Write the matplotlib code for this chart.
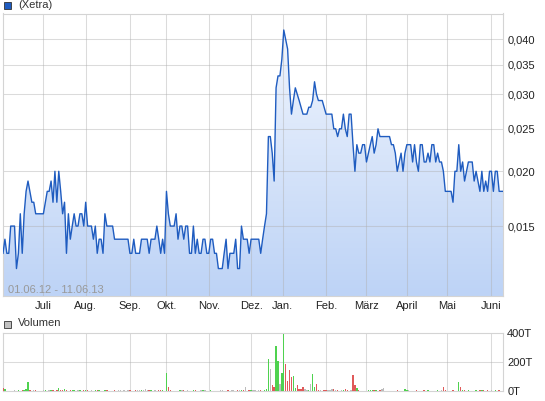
import numpy as np
import matplotlib.pyplot as plt
from matplotlib.colors import LinearSegmentedColormap
from matplotlib.patches import Rectangle
from matplotlib.ticker import NullLocator

plt.rcParams['font.family'] = ['Liberation Sans', 'DejaVu Sans']

# Schlusskurse Xetra, Handelstage 01.06.12 - 11.06.13 (in 1/1000 EUR)
kurs = [13, 14, 13, 13, 15, 15, 15, 12, 13, 16, 13, 16, 18, 19, 18, 17, 17, 16, 16, 16,
        16, 16, 17, 18, 18, 19, 17, 20, 17, 20, 18, 16, 17, 13, 16, 14, 15, 16, 15, 15,
        16, 16, 15, 17, 15, 15, 15, 14, 15, 13, 14, 14, 13, 16, 15, 15, 15, 15, 14, 14,
        14, 14, 14, 14, 14, 14,
        13, 13, 14, 13, 13, 13, 14, 14, 14, 14, 13, 14, 14, 14, 15, 14, 13, 14, 13, 18,
        16, 15, 15, 15, 16, 14, 15, 15, 14, 15, 15, 13, 13, 15, 13, 14, 13, 13, 14, 14,
        13, 13, 14, 14, 13, 13, 12, 12, 12, 13, 14, 12, 13, 13, 13, 14, 12, 12, 15, 14,
        14, 14, 13, 14, 14,
        14, 14, 14, 13, 14, 15, 16, 24, 24, 22, 19, 31, 33, 33, 36, 42, 40, 38, 31, 27,
        29, 31, 30, 29, 28, 27, 27, 27, 28, 28, 29, 32, 30, 29, 29, 29, 28, 27, 27, 27,
        27, 25, 25, 24, 25, 25, 27, 25, 24, 27, 27, 23, 20, 23, 22, 22, 23, 23, 21, 22,
        23, 24, 22, 23, 25, 24,
        24, 24, 24, 24, 24, 23, 23, 22, 20, 21, 22, 20, 22, 23, 23, 23, 21, 23, 21, 20,
        23, 23, 21, 21, 22, 21, 23, 23, 21, 22, 21, 21, 20, 18, 18, 18, 18, 17, 20, 20,
        23, 20, 21, 19, 20, 21, 21, 21, 19, 20, 19, 18, 20, 18, 19, 18, 20, 20, 18, 20,
        20, 18, 18, 18]

# Umsatz in Tausend Stueck
volumen = [23, 14, 5, 4, 5, 4, 6, 5, 12, 5, 12, 6, 14, 64, 10, 5, 6, 8, 5, 4,
           4, 6, 8, 5, 10, 12, 6, 5, 10, 23, 6, 8, 18, 6, 5, 10, 6, 8, 5, 12,
           6, 5, 8, 10, 6, 5, 6, 4, 8, 10, 12, 5, 4, 8, 6, 5, 4, 5, 6, 5,
           8, 6, 5, 10, 5, 8, 6, 4, 5, 6, 12, 8, 6, 10, 14, 6, 8, 10, 5, 6,
           5, 8, 10, 6, 5, 127, 27, 10, 5, 5, 5, 4, 6, 8, 12, 5, 6, 5, 4, 8,
           6, 5, 5, 8, 10, 6, 5, 4, 6, 5, 5, 4, 5, 6, 8, 5, 4, 6, 5, 8,
           6, 5, 10, 8, 12, 10, 30, 5, 12, 8, 6, 10, 5, 8, 12, 5, 10, 14, 221, 155,
           43, 30, 310, 207, 52, 125, 392, 187, 71, 146, 98, 105, 23, 43, 18, 14, 30, 14, 8, 10,
           50, 118, 30, 50, 8, 8, 5, 6, 10, 12, 8, 14, 14, 6, 8, 5, 10, 12, 14, 6,
           5, 6, 111, 41, 23, 8, 4, 4, 4, 4, 6, 6, 10, 10, 6, 5, 10, 18, 20, 4,
           4, 4, 4, 4, 4, 12, 4, 3, 4, 14, 8, 10, 4, 3, 4, 6, 5, 4, 4, 8,
           3, 6, 4, 5, 5, 4, 6, 4, 8, 30, 10, 5, 4, 5, 8, 4, 4, 66, 32, 10,
           8, 5, 12, 4, 4, 4, 6, 4, 6, 6, 6, 5, 8, 4, 6, 5, 8, 4, 6, 5, 5]

monate = ['Juli', 'Aug.', 'Sep.', 'Okt.', 'Nov.', 'Dez.', 'Jan.', 'Feb.', 'März', 'April', 'Mai', 'Juni']
monat_idx = [21, 43, 66, 85, 107, 129, 145.4, 168, 189, 210, 231, 254]
kurs_ticks = [0.015, 0.020, 0.025, 0.030, 0.035, 0.040]
vol_ticks = [0, 200, 400]

preis = np.array(kurs) / 1000
x = np.arange(len(preis))

fig = plt.figure(figsize=(5.45, 4.01), dpi=100)
ax = fig.add_axes([3 / 545, 105 / 401, 500 / 545, 282.5 / 401])
axv = fig.add_axes([3 / 545, 9.7 / 401, 500 / 545, 58.6 / 401])

# Kurschart
ax.set_yscale('log')
flaeche = ax.fill_between(x, preis, 0.005, color='none', lw=0)
cmap = LinearSegmentedColormap.from_list('blau', ['#bdd3f6', '#f3f7fe'])
im = ax.imshow(np.linspace(0, 1, 256).reshape(-1, 1), cmap=cmap, aspect='auto',
               extent=[0, 1, 0, 1], transform=ax.transAxes, origin='lower', zorder=1)
im.set_clip_path(flaeche.get_paths()[0], transform=ax.transData)
for m in monat_idx:
    ax.axvline(m, color='#b0b0b0', alpha=0.45, lw=0.75, zorder=2)
for t in kurs_ticks:
    ax.axhline(t, color='#b0b0b0', alpha=0.45, lw=0.75, zorder=2)
ax.plot(x, preis, color='#1f5cc0', lw=1.0, zorder=3)
ax.set_xlim(0, len(preis) - 1)
ax.set_ylim(0.01039, 0.0458)

ax.yaxis.tick_right()
ax.set_yticks(kurs_ticks, [f'{t:.3f}'.replace('.', ',') for t in kurs_ticks])
ax.yaxis.set_minor_locator(NullLocator())
ax.set_xticks(monat_idx, monate)
ax.tick_params(axis='y', length=0, pad=3, labelsize=8, labelcolor='#222222')
ax.tick_params(axis='x', length=0, pad=3.5, labelsize=8, labelcolor='#222222')
for s in ax.spines.values():
    s.set_color('#d4d4d4')
    s.set_linewidth(0.8)
ax.text(0.01, 0.012, '01.06.12 - 11.06.13', transform=ax.transAxes, fontsize=8,
        color='#999999', zorder=4)

# Volumen: gruen = Kurs gestiegen, rot = gefallen, grau = unveraendert
farben = []
for i in range(len(preis)):
    if i == 0 or preis[i] < preis[i - 1]:
        farben.append('#e05a5a')
    elif preis[i] > preis[i - 1]:
        farben.append('#4fd24f')
    else:
        farben.append('#bcbcbc')
axv.bar(x, volumen, width=0.7, color=farben, lw=0, antialiased=False, zorder=3)
for m in monat_idx:
    axv.axvline(m, color='#b0b0b0', alpha=0.45, lw=0.75, zorder=1)
axv.axhline(200, color='#b0b0b0', alpha=0.45, lw=0.75, zorder=1)
axv.set_xlim(0, len(preis) - 1)
axv.set_ylim(0, 400)
axv.yaxis.tick_right()
axv.set_yticks(vol_ticks, [f'{v}T' for v in vol_ticks])
axv.set_xticks([])
axv.tick_params(axis='y', length=0, pad=3, labelsize=8, labelcolor='#222222')
for s in axv.spines.values():
    s.set_color('#d4d4d4')
    s.set_linewidth(0.8)

# Legenden
fig.patches.append(Rectangle((3.5 / 545, 1 - 9 / 401), 7 / 545, 7 / 401, transform=fig.transFigure,
                             facecolor='#1f5cc0', edgecolor='#333333', lw=0.6))
fig.text(18 / 545, 1 - 5.5 / 401, '(Xetra)', fontsize=8, va='center', color='#333333')
fig.patches.append(Rectangle((3.5 / 545, 1 - 327.5 / 401), 7 / 545, 7 / 401, transform=fig.transFigure,
                             facecolor='#c0c0c0', edgecolor='#333333', lw=0.6))
fig.text(18 / 545, 1 - 323.5 / 401, 'Volumen', fontsize=8, va='center', color='#333333')

fig.savefig('out.png', dpi=100)
